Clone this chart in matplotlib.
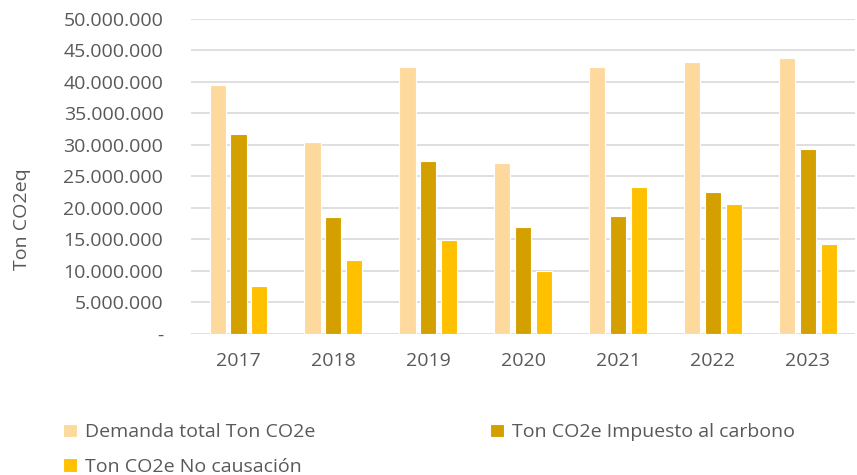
import numpy as np
import matplotlib.pyplot as plt
from matplotlib.ticker import FuncFormatter

years = ['2017', '2018', '2019', '2020', '2021', '2022', '2023']
demanda = [39.5e6, 30.5e6, 42.4e6, 27.2e6, 42.3e6, 43.2e6, 43.8e6]
impuesto = [31.7e6, 18.6e6, 27.4e6, 17.0e6, 18.8e6, 22.5e6, 29.4e6]
no_caus = [7.6e6, 11.8e6, 14.9e6, 10.0e6, 23.4e6, 20.7e6, 14.2e6]

labels = ['Demanda total Ton CO2e', 'Ton CO2e Impuesto al carbono', 'Ton CO2e No causación']
colors = ['#FED99E', '#D4A000', '#FFC000']

plt.rcParams['font.family'] = ['Open Sans', 'DejaVu Sans']
txt = '#595959'

fig = plt.figure(figsize=(8.57, 4.75), dpi=100)
ax = fig.add_axes([0.223, 0.297, 0.775, 0.663])

x = np.arange(len(years))
w = 0.17
step = 0.22
bars = []
for k, (vals, lab, c) in enumerate(zip([demanda, impuesto, no_caus], labels, colors)):
    b = ax.bar(x + (k - 1) * step, vals, w, color=c, label=lab, edgecolor='white', linewidth=0.8, zorder=3)
    bars.append(b)

ax.set_xlim(-0.5, len(years) - 0.5)
ax.set_ylim(0, 50e6)
ax.set_yticks(np.arange(0, 50e6 + 1, 5e6))

def fmt(v, pos):
    if v == 0:
        return '-'
    return f"{int(v):,}".replace(',', '.')

ax.yaxis.set_major_formatter(FuncFormatter(fmt))
ax.set_xticks(x)
ax.set_xticklabels(years)
ax.grid(axis='y', color='#d9d9d9', linewidth=1.2, zorder=0)
for s in ax.spines.values():
    s.set_visible(False)
ax.tick_params(length=0, labelsize=14, colors=txt)
ax.tick_params(axis='y', pad=20)
ax.tick_params(axis='x', pad=13)

fig.text(22 / 857, 1 - 219 / 475, 'Ton CO2eq', rotation=90, fontsize=14, color=txt,
         ha='center', va='center')

# legend filled row by row like excel
order = [0, 2, 1]
fig.legend([bars[i] for i in order], [labels[i] for i in order],
           loc='upper left', bbox_to_anchor=(0.074, 0.109), ncol=2, frameon=False,
           fontsize=14, labelcolor=txt, handlelength=0.7, handleheight=0.7,
           handletextpad=0.4, columnspacing=9.0, borderaxespad=0, borderpad=0,
           labelspacing=0.86)

fig.savefig('out.png', dpi=100)
